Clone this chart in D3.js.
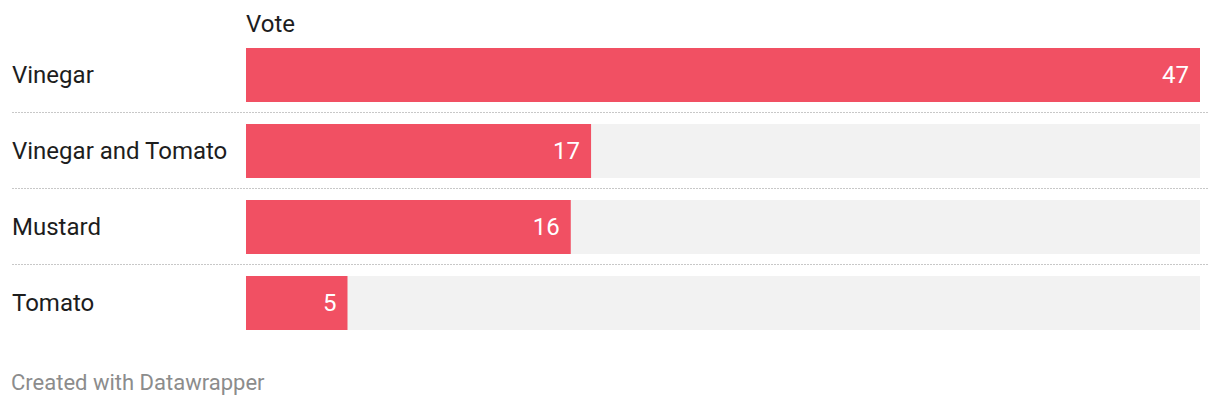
<!DOCTYPE html>
<html><head><meta charset="utf-8">
<script src="https://cdn.jsdelivr.net/npm/d3@7"></script>
<style>
body{margin:0;background:#fff;}
svg text{font-family:Roboto,"Noto Sans",sans-serif;}
</style></head>
<body>
<svg id="c" width="1220" height="406"></svg>
<script>
const categories = ["Vinegar","Vinegar and Tomato","Mustard","Tomato"];
const votes = [47,17,16,5];
const seriesName = "Vote";
const footer = "Created with Datawrapper";

const svg = d3.select("#c");
const x = d3.scaleLinear().domain([0, d3.max(votes)]).range([246, 1200]);
const data = categories.map((c,i)=>({c, v:votes[i]}));
const stepPx = 76, barH = 54, topY = 48;
const yy = d3.scaleBand().domain(categories)
  .range([topY, topY + stepPx*categories.length - (stepPx-barH)])
  .paddingInner((stepPx-barH)/stepPx).paddingOuter(0);

svg.append("text").attr("x",246).attr("y",32).attr("font-size",24).attr("fill","#1d1d1d").text(seriesName);

// dividers
svg.selectAll("line.div").data(categories.slice(1)).join("line")
  .attr("x1",12).attr("x2",1208)
  .attr("y1",d=>yy(d)-11.5).attr("y2",d=>yy(d)-11.5)
  .attr("stroke","#c8c8c8").attr("stroke-width",1).attr("stroke-dasharray","2,1");

svg.selectAll("rect.bg").data(data).join("rect")
  .attr("x",x(0)).attr("width",x.range()[1]-x(0))
  .attr("y",d=>yy(d.c)).attr("height",yy.bandwidth()).attr("fill","#f2f2f2");
svg.selectAll("rect.bar").data(data).join("rect")
  .attr("x",x(0)).attr("width",d=>x(d.v)-x(0))
  .attr("y",d=>yy(d.c)).attr("height",yy.bandwidth()).attr("fill","#f15063");

svg.selectAll("text.lab").data(data).join("text")
  .attr("x",12).attr("y",d=>yy(d.c)+yy.bandwidth()/2+8)
  .attr("font-size",24).attr("fill","#1d1d1d").text(d=>d.c);
svg.selectAll("text.val").data(data).join("text")
  .attr("x",d=>x(d.v)-11).attr("y",d=>yy(d.c)+yy.bandwidth()/2+8)
  .attr("text-anchor","end").attr("font-size",24).attr("fill","#ffffff").text(d=>d.v);

svg.append("text").attr("x",11).attr("y",390).attr("font-size",22).attr("fill","#8c8c8c").text(footer);
</script>
</body></html>
